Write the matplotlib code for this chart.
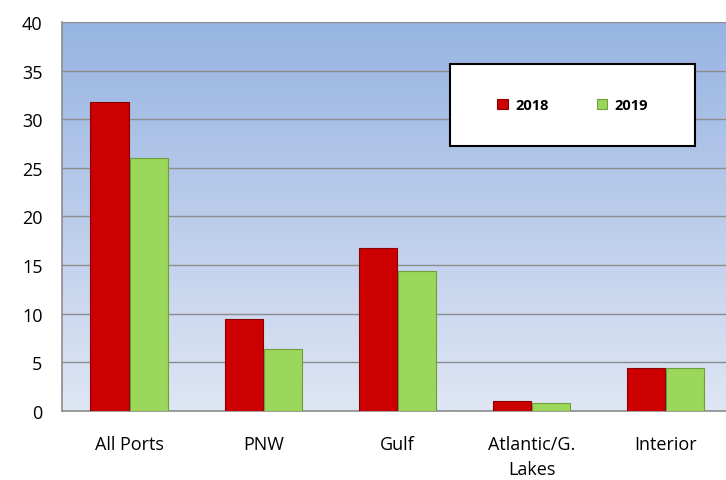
import matplotlib
matplotlib.use("Agg")
import matplotlib.pyplot as plt
import numpy as np
from matplotlib.colors import LinearSegmentedColormap
from matplotlib.patches import Rectangle

categories = ["All Ports", "PNW", "Gulf", "Atlantic/G.\nLakes", "Interior"]
series_names = ["2018", "2019"]
values_2018 = [31.8, 9.5, 16.8, 1.0, 4.4]
values_2019 = [26.0, 6.4, 14.4, 0.8, 4.4]
y_ticks = [0, 5, 10, 15, 20, 25, 30, 35, 40]

plt.rcParams['font.family'] = ['Open Sans', 'DejaVu Sans']

fig = plt.figure(figsize=(7.26, 4.81), dpi=100)
ax = fig.add_axes([62/726, 1 - 412/481, 1 - 62/726, (412 - 23)/481])

# gradient background
cmap = LinearSegmentedColormap.from_list("bg", ["#dfe6f4", "#97b4e2"])
grad = np.linspace(0, 1, 256).reshape(-1, 1)
ax.imshow(grad, aspect='auto', cmap=cmap, origin='lower',
          extent=[-0.5, 4.55, 0, 40], zorder=0)

x = np.arange(len(categories))
w = 0.285
off = 0.146
ax.bar(x - off, values_2018, width=w, color="#cc0000", edgecolor="#8a0000",
       linewidth=0.8, zorder=3, label=series_names[0])
ax.bar(x + off, values_2019, width=w, color="#9ad75a", edgecolor="#6f9e3a",
       linewidth=0.8, zorder=3, label=series_names[1])

ax.set_xlim(-0.5, 4.45)
ax.set_ylim(0, 40)
ax.set_yticks(y_ticks)
ax.set_yticklabels([str(v) for v in y_ticks], fontsize=13)
ax.set_xticks(x)
ax.set_xticklabels(categories, fontsize=13, linespacing=1.5)
ax.tick_params(axis='x', length=0, pad=17)
ax.tick_params(axis='y', length=0, pad=14)
ax.grid(axis='y', color='#8c8c8c', linewidth=1.0, zorder=1)
ax.set_axisbelow(True)
for s in ['top', 'right']:
    ax.spines[s].set_visible(False)
for s in ['left', 'bottom']:
    ax.spines[s].set_color('#8c8c8c')
    ax.spines[s].set_linewidth(1.2)

# legend box
lx0, ly0 = 450/726, 1 - 147/481
lw, lh = (695 - 450)/726, (147 - 65)/481
fig.patches.append(Rectangle((lx0, ly0), lw, lh, transform=fig.transFigure,
                             facecolor='white', edgecolor='black', linewidth=1.5, zorder=5))
leg = fig.legend(handles=[ax.containers[0], ax.containers[1]],
                 labels=series_names, loc='center',
                 bbox_to_anchor=(lx0 + lw/2, ly0 + lh/2), ncol=2,
                 frameon=False, prop={'weight': 'bold', 'size': 10.5},
                 handlelength=0.7, handleheight=0.7, columnspacing=3.3,
                 handletextpad=0.5)
leg.set_zorder(6)

fig.savefig("out.png", dpi=100)
